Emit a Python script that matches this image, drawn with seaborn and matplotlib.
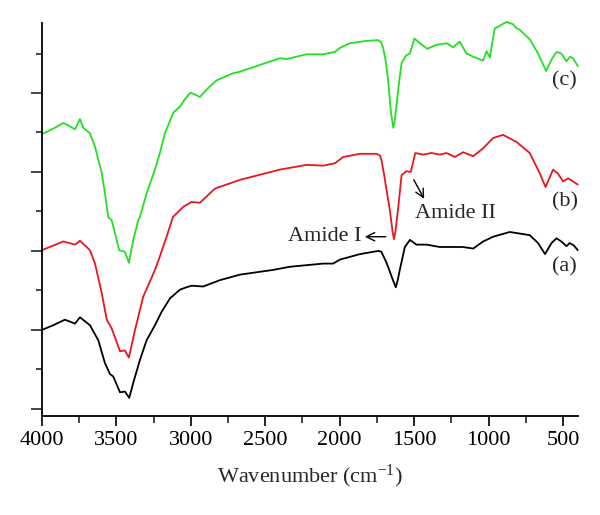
import matplotlib
matplotlib.use("Agg")
import matplotlib.pyplot as plt
from matplotlib.ticker import MultipleLocator, NullFormatter
import numpy as np
import pandas as pd
import seaborn as sns

# ── Data ─────────────────────────────────────────────────────────────────────

wn_c = [4000, 3913, 3857, 3834, 3778, 3745, 3723, 3678, 3644, 3599, 3577, 3555,
        3532, 3481, 3443, 3416, 3387, 3353, 3342, 3297, 3241, 3208, 3174, 3118,
        3073, 3040, 3006, 2995, 2939, 2880, 2827, 2717, 2670, 2402, 2357, 2222,
        2111, 2032, 1999, 1931, 1819, 1741, 1720, 1708, 1690, 1674, 1655, 1640,
        1630, 1615, 1600, 1584, 1551, 1528, 1498, 1461, 1411, 1349, 1282, 1238,
        1193, 1148, 1103, 1036, 1013, 991, 958, 935, 879, 835, 812, 790, 723,
        667, 613, 577, 543, 510, 476, 452, 432, 400]
tr_c = [34.8, 35.6, 36.2, 36.0, 35.4, 36.7, 35.6, 34.9, 33.2, 29.9, 27.3, 24.3,
        23.9, 20.1, 19.9, 18.5, 21.4, 23.9, 24.3, 27.3, 30.3, 32.4, 34.9, 37.5,
        38.3, 39.2, 40.0, 40.0, 39.5, 40.7, 41.6, 42.5, 42.7, 44.4, 44.3, 44.9,
        44.9, 45.2, 45.7, 46.3, 46.6, 46.7, 46.4, 45.7, 44.0, 41.5, 37.5, 35.6,
        36.5, 39.0, 41.5, 43.8, 44.8, 45.0, 46.9, 46.3, 45.6, 46.1, 46.3, 45.8,
        46.5, 45.0, 44.6, 44.1, 45.3, 44.5, 48.2, 48.4, 49.0, 48.7, 48.2, 48.0,
        46.8, 45.0, 42.8, 44.2, 45.2, 45.0, 44.0, 44.6, 44.4, 43.4]

wn_b = [4000, 3857, 3778, 3745, 3678, 3644, 3599, 3565, 3532, 3476, 3443, 3416,
        3375, 3320, 3241, 3208, 3163, 3120, 3050, 2995, 2939, 2838, 2670, 2402,
        2222, 2111, 2032, 1976, 1864, 1752, 1730, 1719, 1700, 1685, 1663, 1645,
        1635, 1625, 1607, 1590, 1584, 1551, 1522, 1492, 1439, 1383, 1327, 1282,
        1226, 1171, 1103, 1036, 969, 902, 812, 723, 655, 617, 566, 533, 499, 465,
        432, 400]
tr_b = [20.1, 21.2, 20.8, 21.3, 20.1, 18.4, 14.7, 11.3, 10.2, 7.3, 7.4, 6.5,
        10.0, 14.2, 17.6, 19.3, 21.8, 24.3, 25.6, 26.2, 26.1, 27.9, 29.0, 30.3,
        30.9, 30.8, 31.1, 31.9, 32.3, 32.3, 32.1, 31.5, 29.5, 27.7, 25.2, 22.5,
        21.5, 22.5, 25.4, 28.5, 29.6, 30.1, 30.0, 32.4, 32.2, 32.4, 32.2, 32.4,
        31.9, 32.5, 32.0, 33.0, 34.3, 34.7, 33.8, 32.4, 29.8, 28.1, 30.3, 29.8,
        28.8, 29.2, 28.8, 28.4]

wn_a = [4000, 3924, 3846, 3778, 3745, 3678, 3622, 3577, 3543, 3521, 3476, 3443,
        3414, 3387, 3342, 3297, 3241, 3196, 3140, 3073, 3030, 2995, 2917, 2805,
        2670, 2447, 2334, 2222, 2111, 2044, 1999, 1864, 1741, 1720, 1700, 1685,
        1665, 1652, 1623, 1610, 1596, 1562, 1528, 1484, 1416, 1327, 1238, 1171,
        1103, 1036, 969, 857, 723, 667, 620, 577, 543, 510, 476, 455, 427, 400]
tr_a = [10.0, 10.6, 11.3, 10.8, 11.6, 10.6, 8.7, 5.8, 4.4, 4.1, 2.1, 2.2,
        1.4, 3.3, 6.2, 8.7, 10.6, 12.3, 14.0, 15.1, 15.4, 15.6, 15.5, 16.3,
        17.0, 17.6, 18.0, 18.2, 18.4, 18.4, 18.9, 19.6, 20.0, 19.9, 19.1, 18.5,
        17.5, 16.8, 15.4, 16.3, 17.6, 20.5, 21.4, 20.8, 20.8, 20.5, 20.5, 20.5,
        20.3, 21.2, 21.8, 22.4, 22.0, 21.0, 19.6, 21.0, 21.6, 21.2, 20.6, 21.0,
        20.7, 20.1]

series = [
    ("(a)", wn_a, tr_a, "black", 18.0),
    ("(b)", wn_b, tr_b, "#e8161e", 26.2),
    ("(c)", wn_c, tr_c, "#22e022", 41.5),
]

# ── Style ─────────────────────────────────────────────────────────────────────

sns.set_theme(style="ticks")
plt.rcParams["font.family"] = ["Liberation Serif", "DejaVu Serif"]
plt.rcParams["mathtext.fontset"] = "custom"
plt.rcParams["mathtext.rm"] = "Liberation Serif"
plt.rcParams["mathtext.it"] = "Liberation Serif:italic"

fig = plt.figure(figsize=(6, 5.15), dpi=100)
ax = fig.add_axes([0.07, 0.1922, 0.893, 0.7631])

for label, wn, tr, color, ylab in series:
    sns.lineplot(x=wn, y=tr, ax=ax, color=color, linewidth=1.3,
                 sort=False, estimator=None, clip_on=False)
    ax.text(488, ylab, label, ha="center", va="center", fontsize=16)

ax.set_xlim(4000, 400)
ax.set_ylim(-0.9, 48.86)

ax.xaxis.set_major_locator(MultipleLocator(500))
ax.xaxis.set_minor_locator(MultipleLocator(250))
ax.yaxis.set_major_locator(MultipleLocator(10))
ax.yaxis.set_minor_locator(MultipleLocator(5))
ax.yaxis.set_major_formatter(NullFormatter())

ax.tick_params(axis="x", which="major", length=7, width=1.2, pad=4,
               labelsize=16, colors="black")
ax.tick_params(axis="x", which="minor", length=5, width=1.2)
ax.tick_params(axis="y", which="major", length=8, width=1.2)
ax.tick_params(axis="y", which="minor", length=4, width=1.2)

sns.despine(ax=ax)
for side in ("left", "bottom"):
    ax.spines[side].set_linewidth(1.3)
    ax.spines[side].set_color("black")

ax.set_xlabel("Wavenumber (cm$^{\\mathregular{-1}}$)", fontsize=16, labelpad=9)
ax.set_ylabel("")

# Amide annotations
arrow = dict(arrowstyle="->,head_length=0.5,head_width=0.25", color="black",
             lw=1.0, shrinkA=0, shrinkB=0)
ax.text(1851, 21.8, "Amide I", ha="right", va="center", fontsize=16)
ax.annotate("", xy=(1831, 21.8), xytext=(1690, 21.8), arrowprops=arrow)
ax.text(1495, 24.7, "Amide II", ha="left", va="center", fontsize=16)
ax.annotate("", xy=(1432, 26.6), xytext=(1502, 29.0), arrowprops=arrow)

fig.savefig("out.png", dpi=100)
plt.close(fig)
